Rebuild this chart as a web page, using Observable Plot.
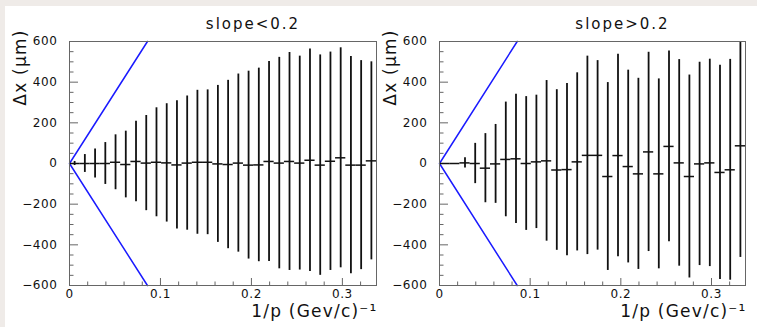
<!DOCTYPE html>
<html>
<head>
<meta charset="utf-8">
<script src="https://cdn.jsdelivr.net/npm/d3@7"></script>
<script src="https://cdn.jsdelivr.net/npm/@observablehq/plot@0.6"></script>
<style>
  body { margin: 0; }
  #page { position: relative; width: 757px; height: 327px; background: #efebe8; overflow: hidden; font-family: "DejaVu Sans", sans-serif; }
  #inner { position: absolute; left: 5px; top: 6px; right: 0; bottom: 0; background: #fff; }
  #left { position: absolute; left: 0; top: 0; width: 378px; height: 327px; }
  #right { position: absolute; left: 378px; top: 0; width: 379px; height: 327px; }
</style>
</head>
<body>
<div id="page"><div id="inner"></div><div id="left"></div><div id="right"></div></div>
<script>
// ---- data ----
const titles = ["slope<0.2", "slope>0.2"];
const xLabel = "1/p (Gev/c)⁻¹";
const yLabel = "Δx (μm)";
const binWidth = 0.01125;   // 30 bins over [0, 0.3375]
const xDomain = [0, 0.3375];
const yDomain = [-600, 600];

// slope < 0.2 : bin mean and half-width (µm)
const leftMean = [0, 0, 0, 0, 6, -5, 10, 2, 6, 3, -7, 2, 6, 6, -2, -5, 2, -8, -7, 10, 2, 10, 2, 16, -8, 11, 28, -8, -8, 13];
const leftErr  = [10, 44, 71, 103, 135, 164, 198, 234, 268, 291, 315, 330, 354, 356, 386, 414, 438, 462, 476, 492, 520, 536, 526, 547, 542, 537, 541, 534, 514, 487];

// slope > 0.2
const rightMean = [0, 0, 3, 0, -23, -2, 20, 23, 0, 8, 13, -32, -30, 8, 40, 40, -64, 39, -15, -51, 57, -51, 84, 3, -64, -2, 3, -44, -31, 87];
const rightErr  = [0, 0, 25, 99, 170, 194, 282, 318, 329, 328, 395, 395, 424, 438, 488, 466, 462, 498, 474, 470, 490, 467, 469, 508, 499, 500, 510, 527, 543, 549];

// blue resolution lines (V shape)
const blueX = [0.0857, 0, 0.0857];
const blueY = [600, 0, -600];

// axis ticks
const xMajor = [0, 0.1, 0.2, 0.3];
const xMinor = [0.02, 0.04, 0.06, 0.08, 0.12, 0.14, 0.16, 0.18, 0.22, 0.24, 0.26, 0.28, 0.32];
const yMajor = [-600, -400, -200, 0, 200, 400, 600];
const yMinor = [-550, -500, -450, -350, -300, -250, -150, -100, -50, 50, 100, 150, 250, 300, 350, 450, 500, 550];

function makeBins(mean, err) {
  return mean.map((c, i) => ({x0: i * binWidth, x1: (i + 1) * binWidth, xc: (i + 0.5) * binWidth, c, err: err[i]}));
}
const blue = blueX.map((x, i) => ({x, y: blueY[i]}));

function chart(title, mean, err, width, marginLeft, marginRight) {
  const bins = makeBins(mean, err);
  const tickColor = "#666";
  const svg = Plot.plot({
    width, height: 327,
    marginLeft, marginRight, marginTop: 41, marginBottom: 42,
    style: {background: "transparent", fontFamily: "DejaVu Sans, sans-serif", maxWidth: "none", color: "#111"},
    x: {domain: xDomain, label: null},
    y: {domain: yDomain, label: null, clamp: true},
    marks: [
      Plot.axisY(yMinor, {tickSize: 4.5, dx: 4.5, tickFormat: () => "", stroke: tickColor}),
      Plot.axisY(yMajor, {tickSize: 9, dx: 9, tickFormat: () => "", stroke: tickColor}),
      Plot.axisY(yMajor, {tickSize: 0, tickPadding: 12, fontSize: 12, fill: "#111",
        tickFormat: d => d < 0 ? "\u2212" + Math.abs(d) : String(d)}),
      Plot.axisX(xMinor, {tickSize: 3.5, dy: -3.5, tickFormat: () => "", stroke: tickColor}),
      Plot.axisX(xMajor, {tickSize: 7, dy: -7, tickFormat: () => "", stroke: tickColor}),
      Plot.axisX(xMajor, {tickSize: 0, tickPadding: 4, fontSize: 12, fill: "#111",
        tickFormat: d => d === 0 ? "0" : d.toFixed(1)}),
      Plot.line(blue, {x: "x", y: "y", stroke: "#1a1aff", strokeWidth: 1.5}),
      Plot.ruleX(bins.filter(d => d.err > 0), {x: "xc", y1: d => d.c - d.err, y2: d => d.c + d.err, stroke: "#111", strokeWidth: 1.8}),
      Plot.ruleY(bins, {y: "c", x1: "x0", x2: "x1", stroke: "#111", strokeWidth: 1.5}),
      Plot.frame({stroke: tickColor}),
      Plot.text([title], {frameAnchor: "top", dx: 30, dy: -17, fontSize: 15, lineAnchor: "middle", fill: "#111"}),
      Plot.text([yLabel], {frameAnchor: "top-left", rotate: -90, textAnchor: "end", lineAnchor: "middle", dx: -49, dy: -12, fontSize: 17, fill: "#111"}),
      Plot.text([xLabel], {frameAnchor: "bottom-right", textAnchor: "end", lineAnchor: "middle", dx: 1, dy: 26, fontSize: 17, fill: "#111"})
    ]
  });
  // letter spacing to mimic the wide ROOT/HIGZ lettering
  d3.select(svg).selectAll("text").each(function() {
    const t = this.textContent;
    let ls = "0.6px";
    if (titles.includes(t)) ls = "2px";
    else if (t === yLabel || t === xLabel) ls = "1.2px";
    this.style.letterSpacing = ls;
  });
  return svg;
}

document.getElementById("left").appendChild(chart(titles[0], leftMean, leftErr, 378, 69, 2));
document.getElementById("right").appendChild(chart(titles[1], rightMean, rightErr, 379, 61, 12));
</script>
</body>
</html>
